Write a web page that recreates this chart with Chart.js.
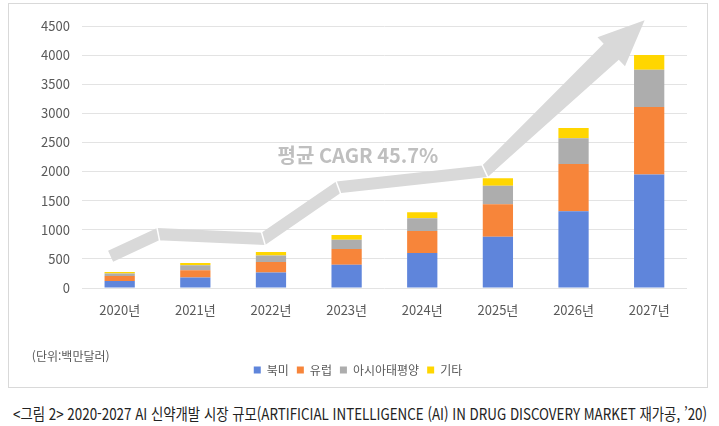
<!DOCTYPE html>
<html lang="ko">
<head>
<meta charset="utf-8">
<script src="https://cdn.jsdelivr.net/npm/chart.js@4.4.0/dist/chart.umd.min.js"></script>
<style>
    html, body { margin: 0; padding: 0; background: #fff; }
    body { width: 719px; height: 426px; position: relative; overflow: hidden; font-family: 'Noto Sans CJK KR', 'Noto Sans', sans-serif; }
    #box { position: absolute; left: 8px; top: 3px; width: 698px; height: 383px; border: 1px solid #d9d9d9; }
    #caption { position: absolute; left: 13px; top: 403px; font-size: 16px; line-height: 20px; color: #222; white-space: nowrap; transform-origin: 0 0; }
</style>
</head>
<body>
<div id="box"><canvas id="chart" width="698" height="383"></canvas></div>
<div id="caption">&lt;그림 2&gt; 2020-2027 AI 신약개발 시장 규모(ARTIFICIAL INTELLIGENCE (AI) IN DRUG DISCOVERY MARKET 재가공, ’20)</div>
<script>
const years = ['2020년', '2021년', '2022년', '2023년', '2024년', '2025년', '2026년', '2027년'];
const northAmerica = [120, 180, 265, 400, 600, 880, 1320, 1950];
const europe = [86, 125, 182, 270, 380, 560, 810, 1160];
const asiaPacific = [41, 85, 110, 160, 220, 315, 440, 640];
const others = [28, 40, 62, 80, 100, 130, 180, 250];
const yTicks = [0, 500, 1000, 1500, 2000, 2500, 3000, 3500, 4000, 4500];

// the grey growth arrow, in category index / value units
const arrowIdx = [-0.12, 0.51, 1.9, 2.89, 4.83, 6.94];
const arrowVal = [545, 925, 845, 1730, 2005, 4600];
const cagrLabel = '평균 CAGR 45.7%';
const cagrAt = [3.15, 2282];
const unitLabel = '(단위:백만달러)';

const fontFamily = "'Noto Sans CJK KR', 'Noto Sans', sans-serif";
Chart.defaults.font.family = fontFamily;

const growthArrow = {
    id: 'growthArrow',
    afterDatasetsDraw(chart) {
        const {ctx, scales: {x, y}} = chart;
        const pts = arrowIdx.map((v, i) => ({x: x.getPixelForValue(v), y: y.getPixelForValue(arrowVal[i])}));
        const tip = pts[pts.length - 1];
        const last = pts[pts.length - 2];
        const len = Math.hypot(tip.x - last.x, tip.y - last.y);
        const dx = (tip.x - last.x) / len, dy = (tip.y - last.y) / len;
        const nx = -dy, ny = dx;
        const headLen = 46, headHalf = 20, baseHalf = 11, bandHalf = 6;
        const base = {x: tip.x - dx * headLen, y: tip.y - dy * headLen};

        ctx.save();
        ctx.fillStyle = '#d9d9d9';
        ctx.strokeStyle = '#d9d9d9';
        ctx.lineWidth = bandHalf * 2;
        ctx.lineJoin = 'miter';
        ctx.lineCap = 'butt';
        ctx.beginPath();
        ctx.moveTo(pts[0].x, pts[0].y);
        for (let i = 1; i < pts.length - 1; i++) {
            ctx.lineTo(pts[i].x, pts[i].y);
        }
        ctx.lineTo(base.x, base.y);
        ctx.stroke();

        // shaft gets wider toward the head
        ctx.beginPath();
        ctx.moveTo(last.x + nx * bandHalf, last.y + ny * bandHalf);
        ctx.lineTo(base.x + nx * baseHalf, base.y + ny * baseHalf);
        ctx.lineTo(base.x + nx * headHalf, base.y + ny * headHalf);
        ctx.lineTo(tip.x, tip.y);
        ctx.lineTo(base.x - nx * headHalf, base.y - ny * headHalf);
        ctx.lineTo(base.x - nx * baseHalf, base.y - ny * baseHalf);
        ctx.lineTo(last.x - nx * bandHalf, last.y - ny * bandHalf);
        ctx.closePath();
        ctx.fill();

        // thin white cuts at every bend
        ctx.strokeStyle = '#fff';
        ctx.lineWidth = 1.5;
        for (let i = 1; i < pts.length - 1; i++) {
            const a = pts[i - 1], b = pts[i], c = pts[i + 1];
            const l1 = Math.hypot(b.x - a.x, b.y - a.y), l2 = Math.hypot(c.x - b.x, c.y - b.y);
            const d1 = {x: (b.x - a.x) / l1, y: (b.y - a.y) / l1};
            const d2 = {x: (c.x - b.x) / l2, y: (c.y - b.y) / l2};
            let tx = d1.x + d2.x, ty = d1.y + d2.y;
            const tl = Math.hypot(tx, ty);
            tx /= tl; ty /= tl;
            const cx = -ty, cy = tx;
            const cos = Math.abs(cx * -d1.y + cy * d1.x);
            const half = bandHalf / cos + 1;
            ctx.beginPath();
            ctx.moveTo(b.x - cx * half, b.y - cy * half);
            ctx.lineTo(b.x + cx * half, b.y + cy * half);
            ctx.stroke();
        }

        ctx.font = 'bold 20px ' + fontFamily;
        ctx.fillStyle = '#bfbfbf';
        ctx.textAlign = 'center';
        ctx.textBaseline = 'middle';
        ctx.fillText(cagrLabel, x.getPixelForValue(cagrAt[0]), y.getPixelForValue(cagrAt[1]));
        ctx.restore();
    },
    afterDraw(chart) {
        const {ctx, chartArea} = chart;
        ctx.save();
        ctx.font = '12px ' + fontFamily;
        ctx.fillStyle = '#595959';
        ctx.textAlign = 'left';
        ctx.textBaseline = 'middle';
        ctx.fillText(unitLabel, chartArea.left - 50, chartArea.bottom + 68);
        ctx.restore();
    }
};

new Chart(document.getElementById('chart'), {
    type: 'bar',
    data: {
        labels: years,
        datasets: [
            {label: '북미', data: northAmerica, backgroundColor: '#5f85db'},
            {label: '유럽', data: europe, backgroundColor: '#f7853a'},
            {label: '아시아태평양', data: asiaPacific, backgroundColor: '#adadad'},
            {label: '기타', data: others, backgroundColor: '#ffd600'}
        ]
    },
    options: {
        responsive: false,
        animation: false,
        categoryPercentage: 0.8,
        barPercentage: 0.5,
        layout: {
            padding: {top: 22, right: 20, bottom: 1, left: 20}
        },
        scales: {
            x: {
                stacked: true,
                grid: {display: false, drawTicks: false},
                border: {display: false},
                ticks: {color: '#595959', font: {size: 13}, padding: 14},
                afterFit: (scale) => { scale.height = 68; }
            },
            y: {
                stacked: true,
                min: 0,
                max: 4500,
                grid: {color: '#e3e3e3', drawTicks: false},
                border: {display: false},
                afterBuildTicks: (scale) => { scale.ticks = yTicks.map(v => ({value: v})); },
                ticks: {color: '#595959', font: {size: 13}, padding: 12, callback: (v) => String(v)}
            }
        },
        plugins: {
            legend: {
                position: 'bottom',
                labels: {boxWidth: 7, boxHeight: 7, padding: 8, color: '#595959', font: {size: 12}}
            },
            tooltip: {enabled: false}
        }
    },
    plugins: [growthArrow]
});

const caption = document.getElementById('caption');
caption.style.transform = 'scaleX(' + (694 / caption.getBoundingClientRect().width) + ')';
</script>
</body>
</html>
